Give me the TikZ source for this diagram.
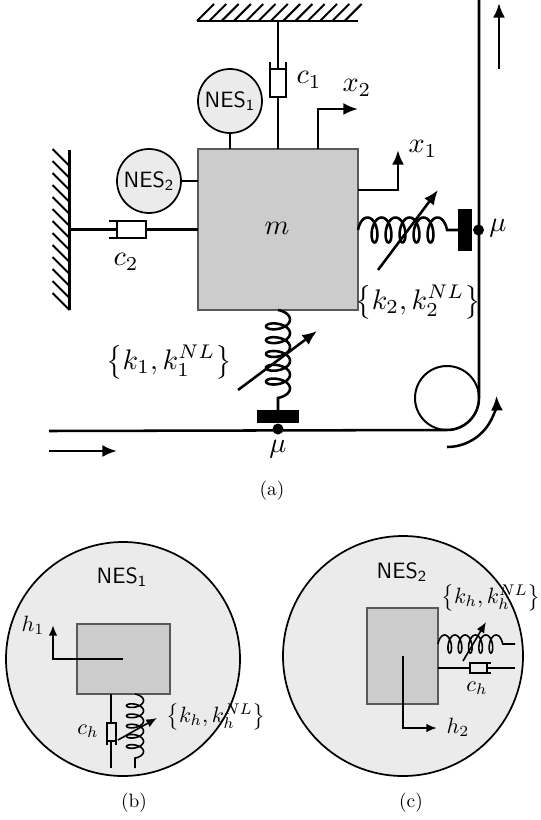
\documentclass[tikz,border=0pt]{standalone}
\usepackage{tikz}
\usetikzlibrary{arrows.meta}
\usetikzlibrary{calc}

\tikzset{
	lne/.style={line width=1.9pt},
	thn/.style={line width=1.2pt},
	tip/.style={-{Latex[length=11pt,width=9pt]}},
	tipsmall/.style={-{Latex[length=8pt,width=6.5pt]}},
	mass/.style={fill=black!20,draw=black!65,line width=0.8pt},
	nes/.style={circle,fill=black!8,draw=black,line width=1.3pt,minimum size=48pt,inner sep=0pt},
	disc/.style={fill=black!8,draw=black,line width=1.3pt},
	lab/.style={scale=2.12,inner sep=0pt},
	labsmall/.style={scale=1.66,inner sep=0pt},
	labnes/.style={scale=1.66,inner sep=0pt},
	labcap/.style={scale=1.45,inner sep=0pt},
}

\begin{document}
\begin{tikzpicture}[x=0.75pt,y=-0.75pt,domain=0:1980,samples=300]

		\useasboundingbox (0,0) rectangle (541,820);

		\coordinate (Ceil) at (278,21);
		\coordinate (WallTop) at (69.5,150);
		\coordinate (WallBot) at (69.5,310);
		\coordinate (Roller) at (447,398);
		\coordinate (BeltTop) at (479,0);
		\coordinate (BeltLeft) at (49,431);

		\draw [mass] (198,149) rectangle (358,310);
		\node (m) [lab] at (277,228) {$m$};

		% ceiling and wall
		\draw [lne] (197,21) -- (358,21);
		\foreach \i in {0,...,12}
			\draw [line width=1.5pt] (197+\i*12.3,21) -- ++(17,-17);
		\draw [lne] (WallTop) -- (WallBot);
		\foreach \i in {0,...,12}
			\draw [line width=1.5pt] (69.5,166+\i*12) -- ++(-17,-17);

		% NES circles
		\node (nesA) [nes] at (230,101) {};
		\node (nesB) [nes] at (149,181) {};
		\node [labnes] at (nesA) {$\mathsf{NES_1}$};
		\node [labnes] at (nesB) {$\mathsf{NES_2}$};
		\draw [lne] (nesA) -- (230,149);
		\draw [lne] (nesB) -- (198,181);

		% damper c1
		\coordinate (P1) at (278,69);
		\coordinate (Q1) at (278,97);
		\draw [lne] (Ceil) -- (P1);
		\draw [lne] (Q1) -- (278,149);
		\draw [lne] (270,62) -- (270,97) -- (286,97) -- (286,62);
		\draw [lne] (270,69) -- (286,69);
		\node (cA) [lab] at (309,80) {$c_1$};

		% damper c2
		\coordinate (P2) at (117,229.5);
		\coordinate (Q2) at (146,229.5);
		\draw [lne] (WallTop |- P2) -- (P2);
		\draw [lne] (Q2) -- (198,229.5);
		\draw [lne] (109,221) -- (146,221) -- (146,238) -- (109,238);
		\draw [lne] (117,221) -- (117,238);
		\node (cB) [lab] at (126,262) {$c_2$};

		% displacement arrows
		\draw [lne,tip] (318,149) |- (358,109);
		\node (xB) [lab] at (357,88) {$x_2$};
		\draw [lne,tip] (358,190) -| (398,150);
		\node (xA) [lab] at (423,149) {$x_1$};

		% belt
		\draw [lne] (BeltTop) -- (479,398) arc (0:90:32) -- (BeltLeft);
		\draw [line width=1.5pt] (Roller) circle (32);
		\draw [lne,tip] (499,69) -- (499,3);
		\draw [lne,tip] (49,451) -- (117,451);
		\draw [lne,tip] (447,447) arc (90:-2:49.5);

		% spring k2
		\draw [lne] plot ({358+\x/360*14+6*(1-cos(\x))},{230-12.5*sin(\x)}) -- (458,230);
		\fill (458,209) rectangle (472,251);
		\fill (478.5,230) circle (5.5);
		\draw [lne,tip] (378,270) -- (438,190);
		\node (muB) [lab] at (498,228) {$\mu$};
		\node (kB) [lab] at (418,302) {$\left\{k_2,k_2^{NL}\right\}$};

		% spring k1
		\draw [lne] plot ({278+12*sin(\x)},{310+\x/360*13.8+6*(1-cos(\x))}) -- (278,410);
		\fill (257,410) rectangle (299,423);
		\fill (278,429) circle (5.5);
		\draw [lne,tip] (238,390) -- (317,331);
		\node (muA) [lab] at (278,449) {$\mu$};
		\node (kA) [lab] at (169,362) {$\left\{k_1,k_1^{NL}\right\}$};

		\node (capA) [labcap] at (272,491) {(a)};

		% panel b
		\node (discB) [disc,circle,minimum size=175.5pt,inner sep=0pt] at (123,659) {};
		\draw [mass] (77,624) rectangle (170,694);
		\node (titleB) [labnes] at (122,577) {$\mathsf{NES_1}$};
		\draw [line width=1.5pt,tipsmall] (123,659) -| (53,625);
		\node (hA) [labsmall] at (33,625) {$h_1$};
		\draw [thn] (111,694) -- (111,723);
		\draw [thn] (111,741) -- (111,768);
		\draw [thn] (107,745) -- (107,723) -- (116,723) -- (116,745);
		\draw [thn] (107,741) -- (116,741);
		\node (chA) [labsmall] at (88,731) {$c_h$};
		\draw [thn] plot ({135+8.5*sin(\x)},{694+\x/360*10.2+4*(1-cos(\x))}) -- (135,768);
		\draw [thn,tipsmall] (118,740) -- (157,718);
		\node (khA) [labsmall] at (216,717) {$\left\{k_h,k_h^{NL}\right\}$};
		\node (capB) [labcap] at (134,803) {(b)};

		% panel c
		\node (discC) [disc,circle,minimum size=180pt,inner sep=0pt] at (403,656) {};
		\draw [mass] (367,608) rectangle (438,704);
		\node (titleC) [labnes] at (402,572) {$\mathsf{NES_2}$};
		\draw [line width=1.5pt,tipsmall] (403,656) |- (437,728);
		\node (hB) [labsmall] at (458,727) {$h_2$};
		\draw [thn] plot ({438+\x/360*10.3+4*(1-cos(\x))},{644-9*sin(\x)}) -- (515,644);
		\draw [thn,tipsmall] (463,661) -- (486,622);
		\draw [thn] (438,668) -- (470,668);
		\draw [thn] (487,668) -- (515,668);
		\draw [thn] (491,663) -- (470,663) -- (470,673) -- (491,673);
		\draw [thn] (487,663) -- (487,673);
		\node (chB) [labsmall] at (477,688) {$c_h$};
		\node (khB) [labsmall] at (491,598) {$\left\{k_h,k_h^{NL}\right\}$};
		\node (capC) [labcap] at (411,803) {(c)};

\end{tikzpicture}
\end{document}
